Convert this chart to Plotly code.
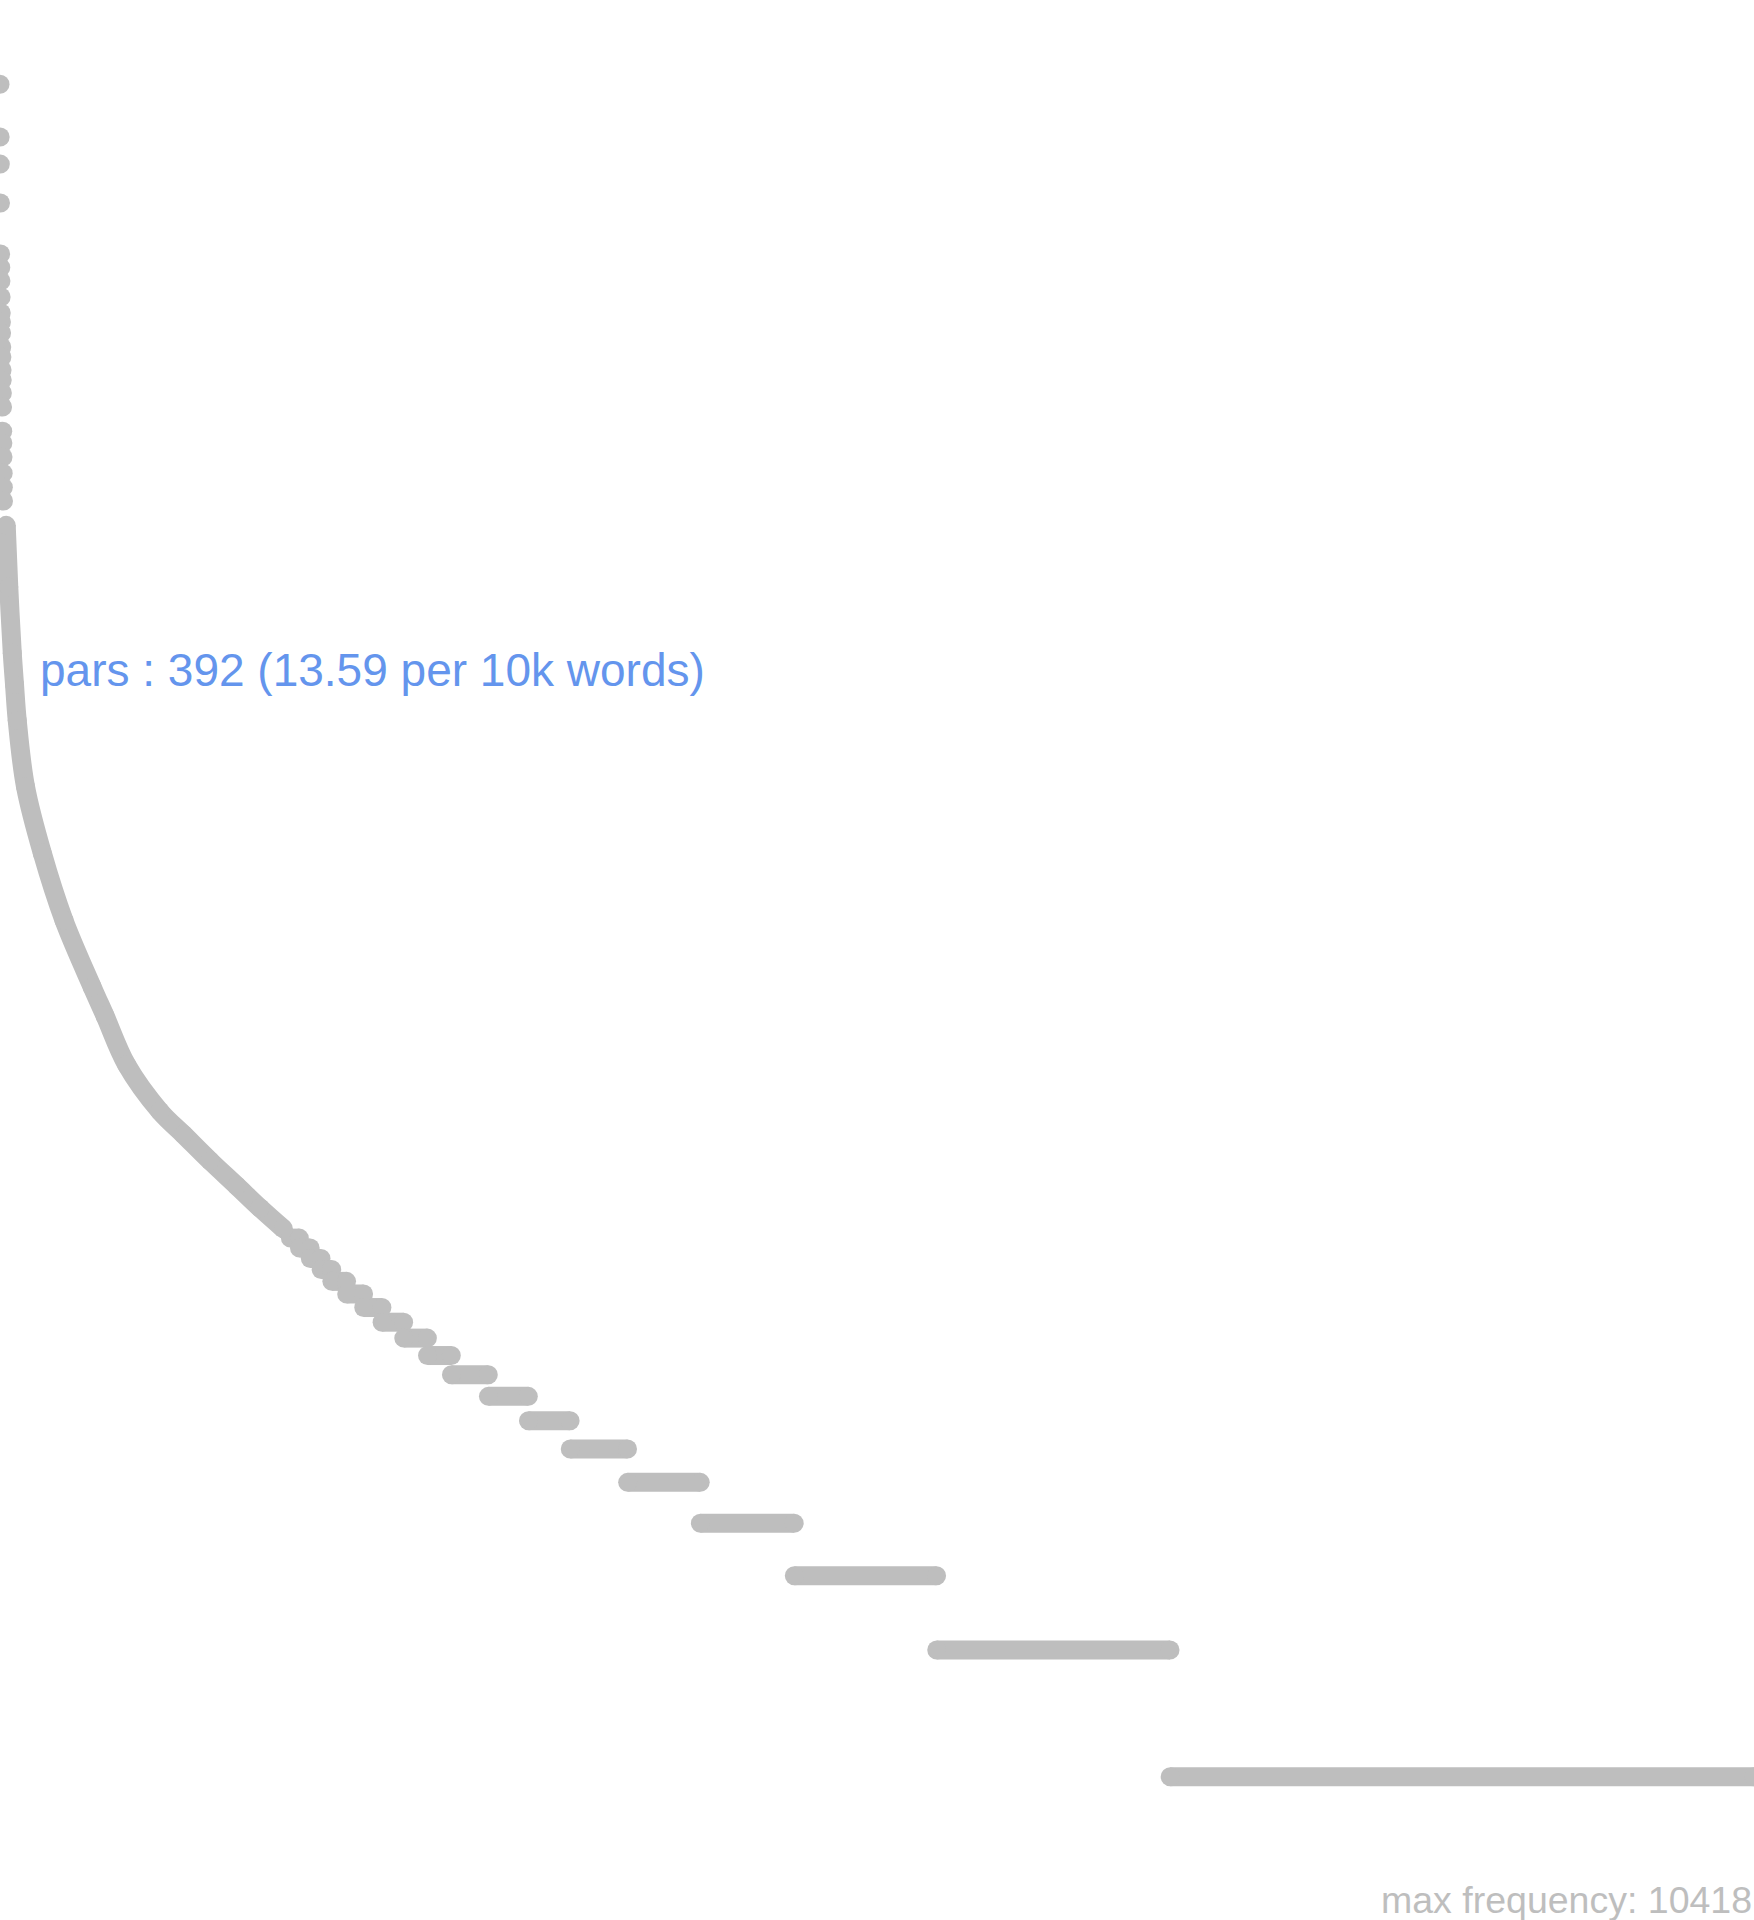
import numpy as np
import plotly.graph_objects as go


# the most frequent words, one point each (ranks 1..23)
top_freq = [10418, 7809, 6736, 5444, 4120, 3826, 3554, 3257, 2985, 2842, 2676,
            2478, 2346, 2185, 2069, 1927, 1785, 1565, 1466, 1358, 1244, 1152, 1068]

curve_rank = [40, 56, 78, 92, 109, 161, 266, 402, 579, 660, 795, 1004, 1151, 1318, 1485, 1632, 1778]
curve_freq = [935, 668, 465, 392, 322, 224, 156, 108, 75, 64, 49, 38, 33.5, 29, 25.3, 22.4, 20]

# low frequencies: number of words sharing each frequency
level_freq = [19, 18, 17, 16, 15, 14, 13, 12, 11, 10, 9, 8, 7, 6, 5, 4, 3, 2, 1]
level_count = [57, 68, 68, 67, 93, 107, 115, 136, 149, 150, 232, 251, 262, 360, 456, 589, 893, 1464, 3662]
level_first_rank = 1822

word = 'pars'
word_freq = 392
word_rank = 92
total_words = 288447

GREY = '#bebebe'
BLUE = '#6495ed'
FONT = 'Liberation Sans, Arial, Helvetica, sans-serif'
DOT = 19


def levelSegments(first_rank, freqs, counts):
    xs, ys = [], []
    r = first_rank
    for f, c in zip(freqs, counts):
        xs += [r, r + c - 1, None]
        ys += [f, f, None]
        r += c
    return xs, ys, r - 1


seg_x, seg_y, vocab = levelSegments(level_first_rank, level_freq, level_count)

fig = go.Figure()
fig.add_scatter(x=list(range(1, len(top_freq) + 1)), y=top_freq, mode='markers',
                marker=dict(size=DOT, color=GREY), hoverinfo='skip')
fig.add_scatter(x=curve_rank, y=curve_freq, mode='lines+markers',
                line=dict(width=DOT, color=GREY, shape='spline', smoothing=1.0),
                marker=dict(size=DOT, color=GREY), hoverinfo='skip')
fig.add_scatter(x=seg_x, y=seg_y, mode='lines+markers',
                line=dict(width=DOT, color=GREY), marker=dict(size=DOT, color=GREY),
                hoverinfo='skip')

per10k = word_freq / total_words * 10000
fig.add_annotation(x=word_rank, y=np.log10(word_freq), xref='x', yref='y',
                   text=f'{word} : {word_freq} ({per10k:.2f} per 10k words)',
                   showarrow=False, xanchor='left', yanchor='middle', xshift=23, yshift=14,
                   font=dict(family=FONT, size=46, color=BLUE))
fig.add_annotation(x=1, y=1 - 1899.5 / 1920, xref='paper', yref='paper',
                   text=f'max frequency: {max(top_freq)}',
                   showarrow=False, xanchor='right', yanchor='middle',
                   font=dict(family=FONT, size=37.5, color=GREY))

fig.update_xaxes(visible=False, range=[1, vocab])
fig.update_yaxes(visible=False, type='log', range=[-0.340, 4.218])
fig.update_layout(width=1754, height=1920, margin=dict(l=0, r=0, t=0, b=0),
                  paper_bgcolor='white', plot_bgcolor='white',
                  showlegend=False, hovermode=False)

# page body margin would push the figure off the window
fig.write_html("out.html", config={'displayModeBar': False},
               post_script="document.body.style.margin='0';")
